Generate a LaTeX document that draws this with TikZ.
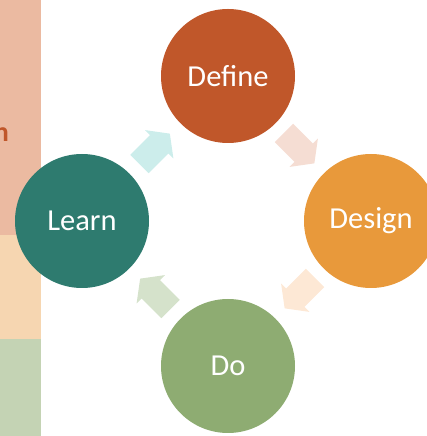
\documentclass[tikz,border=0pt]{standalone}
\usepackage{fontspec}
\setmainfont{Carlito}
\usetikzlibrary{calc}

\definecolor{definefill}{HTML}{C0572A}
\definecolor{designfill}{HTML}{E8993B}
\definecolor{dofill}{HTML}{8EAC72}
\definecolor{learnfill}{HTML}{2E7B6F}
\definecolor{stripsalmon}{HTML}{EBBAA1}
\definecolor{strippeach}{HTML}{F6D6B1}
\definecolor{stripgreen}{HTML}{C4D3B4}
\definecolor{arrowteal}{HTML}{CCEDEB}
\definecolor{arrowsalmon}{HTML}{F5DDD3}
\definecolor{arrowpeach}{HTML}{FDE8D5}
\definecolor{arrowgreen}{HTML}{D5E2CB}

\tikzset{
	stage/.style={circle, minimum size=134pt, inner sep=0pt, text=white,
		font=\fontsize{30.5}{36}\selectfont},
	cyclearrow/.pic={
		\fill (-22,-13) -- (6,-13) -- (6,-20) -- (21,0) -- (6,20) -- (6,13) -- (-22,13) -- cycle;
	}
}

\begin{document}
\begin{tikzpicture}[x=1pt, y=1pt]
	\useasboundingbox (0, 0) rectangle (427, 436);
	\clip (0, 0) rectangle (427, 436);
	
	% strip on the left
	\fill [stripsalmon] (0, 201) rectangle (41, 436);
	\fill [strippeach] (0, 97) rectangle (41, 201);
	\fill [stripgreen] (0, 0) rectangle (41, 97);
	\node (striptext) [anchor=base east, inner sep=0pt, text=definefill,
		font=\fontsize{28}{34}\selectfont\bfseries] at (9, 294) {n};
	
	% the four stages
	\node (define) [stage, fill=definefill] at (228, 360) {Define};
	\node (design) [stage, fill=designfill] at (371, 215) {Design};
	\node (do) [stage, fill=dofill] at (228, 70) {Do};
	\node (learn) [stage, fill=learnfill] at (82, 215) {Learn};
	
	\foreach \from/\to/\ang/\col in {learn/define/45/arrowteal, define/design/-45/arrowsalmon,
		design/do/-135/arrowpeach, do/learn/135/arrowgreen} {
		\pic [rotate=\ang, fill=\col] at ($(\from)!0.5!(\to)$) {cyclearrow};
	}
\end{tikzpicture}
\end{document}
